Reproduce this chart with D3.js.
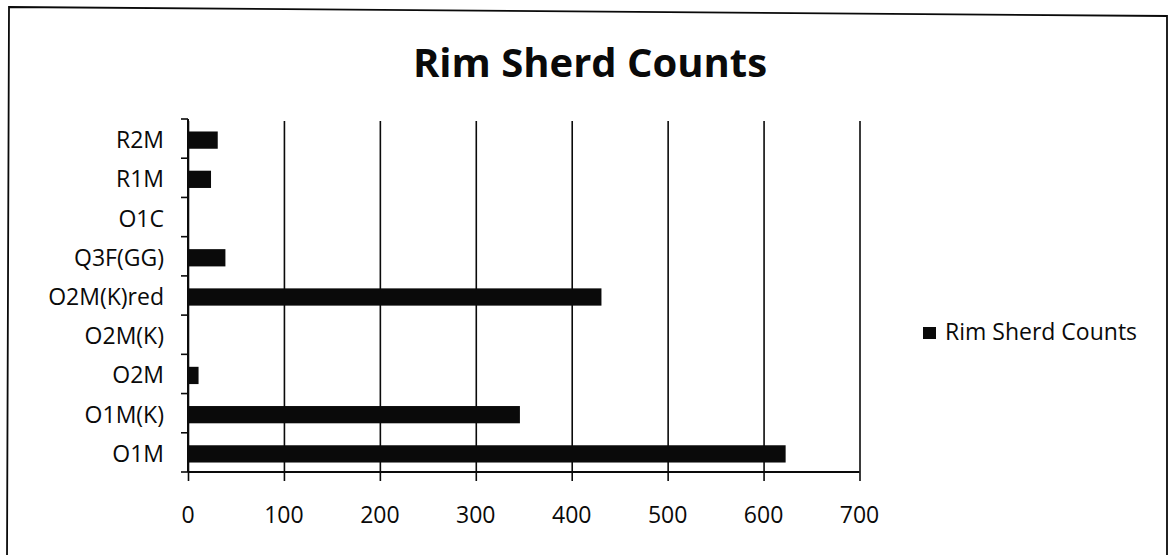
<!DOCTYPE html>
<html>
<head>
<meta charset="utf-8">
<script src="https://cdn.jsdelivr.net/npm/d3@7/dist/d3.min.js"></script>
<style>
  html, body { margin: 0; padding: 0; background: #fff; }
  svg { display: block; }
  text { font-family: "Open Sans", "DejaVu Sans", sans-serif; fill: #0a0a0a; }
</style>
</head>
<body>
<svg id="chart" width="1174" height="555"></svg>
<script>
// Rim sherd counts by ware category (top-to-bottom order as listed)
const categories = ["R2M", "R1M", "O1C", "Q3F(GG)", "O2M(K)red", "O2M(K)", "O2M", "O1M(K)", "O1M"];
const counts     = [31, 24, 0, 39, 431, 0, 11, 346, 623];
const xTicks     = [0, 100, 200, 300, 400, 500, 600, 700];
const chartTitle = "Rim Sherd Counts";
const seriesName = "Rim Sherd Counts";

const svg = d3.select("#chart");
const ink = "#0a0a0a";

// Outer chart frame
svg.append("path")
  .attr("d", "M9,7 L1167,16 L1167,560 L7,560 Z")
  .attr("fill", "none")
  .attr("stroke", ink)
  .attr("stroke-width", 1.8);

// Plot geometry
const plot = { left: 188, right: 859.5, top: 119, bottom: 472 };

const x = d3.scaleLinear().domain([0, 700]).range([plot.left, plot.right]);
const yStep = d3.scaleBand().domain(categories).range([plot.top, plot.bottom]).padding(0);
const y = d3.scaleBand().domain(categories).range([plot.top + 1.5, plot.bottom + 1.5])
  .paddingInner(0.56).paddingOuter(0.28);

// Vertical gridlines
const xAxis = d3.axisBottom(x).tickValues(xTicks).tickSize(-(plot.bottom - plot.top - 2)).tickSizeOuter(0).tickFormat("");
const gx = svg.append("g").attr("transform", `translate(0,${plot.bottom})`).call(xAxis);
gx.select(".domain").remove();
gx.selectAll(".tick line").attr("stroke", ink).attr("stroke-width", 1.6);

// X axis line with tick stubs below it
const xTickStubs = d3.axisBottom(x).tickValues(xTicks).tickSize(9).tickSizeOuter(0).tickFormat("");
const gxs = svg.append("g").attr("transform", `translate(0,${plot.bottom})`).call(xTickStubs);
gxs.select(".domain").attr("stroke", ink).attr("stroke-width", 2).attr("d", `M${plot.left},0H${plot.right}`);
gxs.selectAll(".tick line").attr("stroke", ink).attr("stroke-width", 1.6);

// X tick labels
svg.append("g").selectAll("text").data(xTicks).join("text")
  .attr("x", d => x(d))
  .attr("y", 523)
  .attr("text-anchor", "middle")
  .attr("font-size", 23)
  .text(d => d);

// Y axis line and category boundary ticks
const yBounds = categories.map(c => yStep(c)).concat([plot.bottom]);
svg.append("line")
  .attr("x1", plot.left).attr("x2", plot.left)
  .attr("y1", plot.top).attr("y2", plot.bottom)
  .attr("stroke", ink).attr("stroke-width", 2);
svg.append("g").selectAll("line").data(yBounds).join("line")
  .attr("x1", plot.left - 7).attr("x2", plot.left)
  .attr("y1", d => d).attr("y2", d => d)
  .attr("stroke", ink).attr("stroke-width", 1.6);

// Category labels
svg.append("g").selectAll("text").data(categories).join("text")
  .attr("x", 164)
  .attr("y", c => yStep(c) + yStep.bandwidth() / 2 + 1.5)
  .attr("dy", "0.35em")
  .attr("text-anchor", "end")
  .attr("font-size", 23)
  .text(c => c);

// Bars
svg.append("g").selectAll("rect").data(categories.map((c, i) => ({ c, v: counts[i] }))).join("rect")
  .attr("x", x(0))
  .attr("y", d => y(d.c))
  .attr("width", d => x(d.v) - x(0))
  .attr("height", y.bandwidth())
  .attr("fill", ink);

// Title
svg.append("text")
  .attr("x", 590)
  .attr("y", 77)
  .attr("text-anchor", "middle")
  .attr("font-size", 40)
  .attr("font-weight", "bold")
  .text(chartTitle);

// Legend
const lg = svg.append("g");
lg.append("rect").attr("x", 923).attr("y", 327).attr("width", 13).attr("height", 12).attr("fill", ink);
lg.append("text").attr("x", 945).attr("y", 340).attr("font-size", 23).text(seriesName);
</script>
</body>
</html>
